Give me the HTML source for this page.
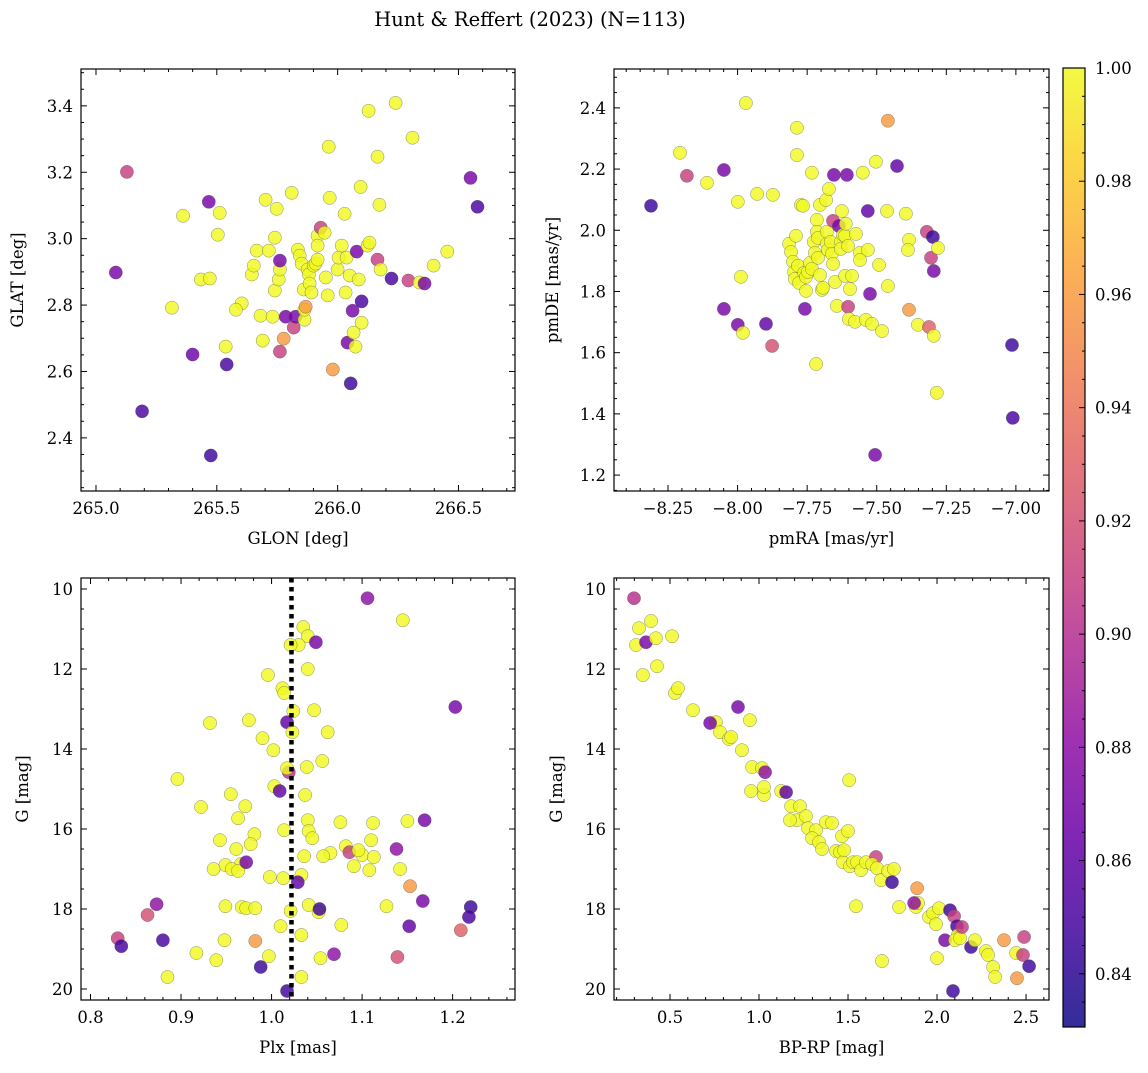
<!DOCTYPE html>
<html><head><meta charset="utf-8"><style>
html,body{margin:0;padding:0;background:#fff}
svg text{font-family:"DejaVu Serif","Liberation Serif",serif;fill:#000}
</style></head><body>
<svg id="fig" width="1148" height="1068" viewBox="0 0 1148 1068" xmlns="http://www.w3.org/2000/svg">
<text x="530" y="26" font-size="19.5" text-anchor="middle">Hunt &amp; Reffert (2023) (N=113)</text>
</svg>
<script>
// ---- Panel 1: GLON / GLAT ----
const glon=[265.128,265.082,265.191,265.400,265.467,265.475,265.541,265.360,265.314,265.434,265.471,265.504,265.512,265.537,265.603,265.579,265.645,265.653,265.665,265.681,265.690,265.702,265.715,265.731,265.740,265.740,265.748,265.756,265.761,265.761,265.761,265.777,265.785,265.810,265.818,265.826,265.835,265.843,265.851,265.860,265.863,265.863,265.868,265.876,265.881,265.884,265.892,265.901,265.909,265.917,265.917,265.917,265.930,265.946,265.951,265.959,265.963,265.967,265.980,266.000,266.004,266.017,266.029,266.033,266.037,266.041,266.050,266.054,266.062,266.066,266.074,266.087,266.079,266.099,266.099,266.095,266.124,266.128,266.132,266.165,266.165,266.173,266.178,266.223,266.240,266.293,266.310,266.339,266.360,266.397,266.454,266.550,266.579];
const glat=[3.201,2.898,2.480,2.651,3.111,2.347,2.621,3.069,2.792,2.877,2.880,3.012,3.078,2.675,2.805,2.786,2.892,2.919,2.964,2.768,2.693,3.117,2.964,2.765,3.003,2.844,3.090,2.877,2.907,2.934,2.660,2.699,2.765,3.138,2.732,2.765,2.967,2.949,2.925,2.847,2.756,2.786,2.795,2.907,2.892,2.865,2.838,2.919,2.925,2.937,3.009,2.979,3.033,3.018,2.883,2.829,3.277,3.123,2.606,2.907,2.943,2.979,3.075,2.838,2.943,2.687,2.889,2.564,2.783,2.717,2.675,2.877,2.961,2.811,2.747,3.156,2.979,3.385,2.988,3.247,2.937,3.102,2.907,2.880,3.409,2.874,3.304,2.868,2.865,2.919,2.961,3.183,3.096];
const prob1=[0.91,0.87,0.85,0.865,0.87,0.845,0.85,1,1,1,1,1,1,1,1,1,1,1,1,1,1,1,1,1,1,1,1,1,1,0.87,0.91,0.96,0.87,1,0.91,0.87,1,1,1,1,1,1,0.96,1,1,1,1,1,1,1,1,1,0.91,1,1,1,1,1,0.96,1,1,1,1,1,1,0.87,1,0.845,0.87,1,1,1,0.87,0.85,1,1,1,1,1,1,0.91,1,1,0.85,1,0.91,1,1,0.87,1,1,0.87,0.85];
// ---- Panel 2: pmRA / pmDE ----
const pmra=[-8.311,-8.207,-8.182,-8.110,-8.049,-8.049,-7.970,-7.999,-7.988,-7.999,-7.981,-7.930,-7.898,-7.873,-7.876,-7.815,-7.808,-7.801,-7.797,-7.794,-7.787,-7.787,-7.790,-7.783,-7.779,-7.772,-7.765,-7.761,-7.754,-7.754,-7.758,-7.747,-7.740,-7.733,-7.733,-7.726,-7.722,-7.718,-7.715,-7.715,-7.711,-7.711,-7.704,-7.704,-7.697,-7.693,-7.682,-7.679,-7.679,-7.675,-7.672,-7.665,-7.661,-7.657,-7.657,-7.654,-7.650,-7.643,-7.636,-7.629,-7.629,-7.625,-7.621,-7.614,-7.614,-7.611,-7.607,-7.603,-7.603,-7.600,-7.596,-7.589,-7.578,-7.575,-7.560,-7.560,-7.550,-7.539,-7.532,-7.532,-7.524,-7.517,-7.506,-7.503,-7.492,-7.481,-7.460,-7.463,-7.460,-7.427,-7.395,-7.384,-7.388,-7.384,-7.352,-7.320,-7.312,-7.305,-7.298,-7.295,-7.295,-7.284,-7.280,-7.014,-7.011];
const pmde=[2.080,2.253,2.178,2.155,2.197,1.743,2.416,2.093,1.848,1.691,1.665,2.119,1.694,2.116,1.622,1.956,1.929,1.897,1.864,1.841,2.335,2.246,1.982,1.884,1.828,2.083,2.080,1.861,1.848,1.802,1.743,1.864,1.893,1.874,2.188,1.962,1.926,1.563,2.034,1.995,1.975,1.910,2.083,1.854,1.805,1.812,2.099,1.956,1.995,1.936,2.135,1.962,1.923,1.890,2.031,2.181,1.831,1.753,2.014,1.962,1.939,2.063,1.985,1.982,1.851,2.021,2.181,1.949,1.750,1.710,1.808,1.851,1.701,1.988,1.926,1.903,2.188,1.707,2.063,1.936,1.792,1.694,1.266,2.224,1.887,1.671,2.358,2.063,1.818,2.210,2.054,1.969,1.936,1.740,1.691,1.995,1.684,1.910,1.978,1.867,1.655,1.469,1.942,1.625,1.387];
const prob2=[0.845,1,0.91,1,0.87,0.87,1,1,1,0.87,1,1,0.86,1,0.92,1,1,1,1,1,1,1,1,1,1,1,1,1,1,1,0.87,1,1,1,1,1,1,1,1,1,1,1,1,1,1,1,1,1,1,1,1,1,1,1,0.91,0.87,1,1,0.87,1,1,1,1,1,1,1,0.87,1,0.91,1,1,1,1,1,1,1,1,1,0.86,1,0.87,1,0.87,1,1,1,0.96,1,1,0.86,1,1,1,0.96,1,0.91,0.93,0.91,0.845,0.87,1,1,1,0.845,0.85];
// ---- Panel 3: Plx / G ----
const plx=[1.106,1.145,1.035,1.040,1.030,1.049,1.021,1.040,0.996,1.012,1.014,1.203,1.024,1.047,1.017,0.932,0.975,1.062,0.990,1.023,1.002,1.056,1.039,1.019,1.017,0.896,1.003,1.037,1.009,0.955,0.971,0.922,0.963,1.040,1.150,1.169,1.076,1.041,1.014,0.981,1.112,0.943,0.977,1.045,1.110,0.961,1.065,1.057,1.082,1.086,1.100,1.113,1.096,1.036,0.966,0.949,0.936,0.956,0.963,0.972,1.091,1.108,1.138,1.142,0.998,1.033,1.013,1.029,1.153,0.873,0.967,0.949,0.972,0.982,1.021,1.052,1.041,1.053,1.127,1.167,1.220,0.863,1.010,1.152,1.218,1.033,1.077,0.830,0.948,0.880,0.982,0.917,1.209,1.139,0.939,0.997,1.054,1.069,0.988,1.033,0.885,0.834,1.017];
const gmag3=[10.23,10.78,10.95,11.18,11.40,11.33,11.40,12.00,12.15,12.48,12.60,12.95,13.05,13.03,13.33,13.35,13.28,13.58,13.73,13.58,14.03,14.30,14.45,14.58,14.48,14.75,14.93,15.15,15.05,15.13,15.43,15.45,15.73,15.78,15.80,15.78,15.83,16.05,16.03,16.13,15.85,16.28,16.38,16.23,16.28,16.50,16.60,16.68,16.43,16.58,16.65,16.70,16.53,16.68,16.88,16.90,17.00,17.00,17.05,16.83,16.93,17.03,16.50,17.00,17.20,17.15,17.23,17.33,17.43,17.88,17.95,17.93,17.98,17.98,18.05,18.08,17.90,18.00,17.93,17.80,17.95,18.15,18.43,18.43,18.20,18.65,18.40,18.73,18.78,18.78,18.80,19.10,18.53,19.20,19.28,19.18,19.23,19.13,19.45,19.70,19.70,18.93,20.05];
const prob3=[0.88,1,1,1,1,0.87,1,1,1,1,1,0.87,1,1,0.86,1,1,1,1,1,1,1,1,0.9,1,1,1,1,0.86,1,1,1,1,1,1,0.87,1,1,1,1,1,1,1,1,1,1,1,1,1,0.91,1,1,1,1,1,1,1,1,1,0.87,1,1,0.88,1,1,1,1,0.86,0.96,0.88,1,1,1,1,1,1,1,0.845,1,0.87,0.845,0.92,1,0.86,0.85,1,1,0.91,1,0.85,0.96,1,0.93,0.92,1,1,1,0.88,0.845,1,1,0.85,0.845];
// ---- Panel 4: BP-RP / G ----
const bprp=[0.298,0.326,0.309,0.365,0.393,0.421,0.427,0.348,0.511,0.528,0.545,0.629,0.758,0.725,0.781,0.831,0.882,0.949,0.843,0.904,0.961,1.017,1.034,1.028,0.955,1.028,1.124,1.152,1.180,1.230,1.213,1.174,1.264,1.275,1.320,1.298,1.376,1.337,1.354,1.410,1.433,1.455,1.466,1.472,1.478,1.500,1.511,1.528,1.551,1.506,1.573,1.601,1.657,1.635,1.663,1.685,1.725,1.758,1.747,1.545,1.787,1.882,1.888,1.893,1.871,1.955,1.978,1.994,2.011,2.045,2.073,2.096,2.112,2.118,2.101,2.129,2.140,2.191,2.213,2.275,2.287,2.315,2.376,2.444,2.489,2.483,2.517,2.449,1.691,2.000,2.326,2.090];
const gmag4=[10.23,10.98,11.40,11.33,10.80,11.23,11.93,12.15,11.18,12.60,12.48,13.03,13.33,13.35,13.58,13.75,12.95,13.28,13.70,14.03,14.45,14.48,14.58,15.15,15.05,14.95,15.05,15.08,15.43,15.43,15.78,15.78,15.68,15.98,16.03,16.23,15.83,16.33,16.50,15.85,16.55,16.58,16.18,16.83,16.53,16.05,16.93,16.83,16.83,14.78,17.03,16.83,16.70,16.88,16.98,17.28,17.05,17.00,17.33,17.93,17.95,17.95,17.48,17.85,17.85,18.20,18.10,18.38,17.98,18.78,18.03,18.18,18.43,18.65,18.78,18.73,18.45,18.95,18.78,19.05,19.15,19.45,18.78,19.10,18.70,19.15,19.43,19.73,19.30,19.23,19.70,20.05];
const prob4=[0.9,1,1,0.87,1,1,1,1,1,1,1,1,1,0.87,1,1,0.87,1,1,1,1,1,0.88,1,1,1,1,0.86,1,1,1,1,1,1,1,1,1,1,1,1,1,1,1,1,1,1,1,1,1,1,1,1,0.91,1,1,1,1,1,0.845,1,1,1,0.96,1,0.88,1,1,1,1,0.87,0.845,0.91,0.85,1,1,1,0.91,0.845,1,1,1,1,0.96,1,0.91,0.91,0.845,0.96,1,1,1,0.845];

const cbTicks=["0.84","0.86","0.88","0.90","0.92","0.94","0.96","0.98","1.00"];
const CMIN=0.8306, CMAX=1.0;
const NS='http://www.w3.org/2000/svg';
const svg=document.getElementById('fig');
const stops=[[13,8,135],[65,4,157],[106,0,168],[143,13,164],[177,42,144],[204,71,120],[225,100,98],[242,132,75],[252,166,54],[252,206,37],[240,249,33]];
function plasma(t){t=Math.max(0,Math.min(1,t));const f=t*10,i=Math.min(9,Math.floor(f)),r=f-i;const a=stops[i],b=stops[i+1];
return 'rgb('+a.map((v,k)=>Math.round(v+(b[k]-v)*r)).join(',')+')';}
function mk(tag,at,parent){const e=document.createElementNS(NS,tag);for(const k in at)e.setAttribute(k,at[k]);(parent||svg).appendChild(e);return e;}
function fmt(v,d){return (v<0?'\u2212':'')+Math.abs(v).toFixed(d);}

function panel(o){
  const g=mk('g',{});
  
  
  const sx=v=>o.L+(v-o.x0)/(o.x1-o.x0)*(o.R-o.L);
  const sy=v=>o.inv? o.T+(v-o.y0)/(o.y1-o.y0)*(o.B-o.T) : o.B-(v-o.y0)/(o.y1-o.y0)*(o.B-o.T);
  const pg=mk('g',{},g);
  
  
  for(let i=0;i<o.xs.length;i++){
    const c=mk('circle',{cx:sx(o.xs[i]).toFixed(1),cy:sy(o.ys[i]).toFixed(1),r:6.6,fill:plasma((o.ps[i]-CMIN)/(CMAX-CMIN)),'fill-opacity':0.82,stroke:'#444','stroke-opacity':0.6,'stroke-width':0.5},pg);
    
    
  }
  if(o.vline!==undefined){
    const l=mk('line',{x1:sx(o.vline),x2:sx(o.vline),y1:o.T,y2:o.B,stroke:'#000','stroke-width':4.5,'stroke-dasharray':'4.5 4.5'},g);
    
    
  }
  const tk=mk('g',{stroke:'#000','stroke-width':1},g);
  
  
  const eps=1e-9;
  const xlo=Math.min(o.x0,o.x1),xhi=Math.max(o.x0,o.x1);
  for(let v=Math.ceil(xlo/o.xmin-eps)*o.xmin; v<=xhi+eps; v+=o.xmin){
    const vv=Math.round(v/o.xmin)*o.xmin;const major=Math.abs(vv/o.xmaj-Math.round(vv/o.xmaj))<1e-6;const len=major?6:3;const x=sx(vv);
    mk('line',{x1:x,x2:x,y1:o.B,y2:o.B-len},tk);mk('line',{x1:x,x2:x,y1:o.T,y2:o.T+len},tk);
    if(major){const t=mk('text',{x:x,y:o.B+23,'font-size':16.5,'text-anchor':'middle',stroke:'none'},g);t.textContent=fmt(vv,o.xd);
      }
  }
  const ylo=Math.min(o.y0,o.y1),yhi=Math.max(o.y0,o.y1);
  for(let v=Math.ceil(ylo/o.ymin-eps)*o.ymin; v<=yhi+eps; v+=o.ymin){
    const vv=Math.round(v/o.ymin)*o.ymin;const major=Math.abs(vv/o.ymaj-Math.round(vv/o.ymaj))<1e-6;const len=major?6:3;const y=sy(vv);
    mk('line',{x1:o.L,x2:o.L+len,y1:y,y2:y},tk);mk('line',{x1:o.R,x2:o.R-len,y1:y,y2:y},tk);
    if(major){const t=mk('text',{x:o.L-8,y:y+6,'font-size':16.5,'text-anchor':'end',stroke:'none'},g);t.textContent=fmt(vv,o.yd);
      }
  }
  const fr=mk('rect',{x:o.L,y:o.T,width:o.R-o.L,height:o.B-o.T,fill:'none',stroke:'#000','stroke-width':1.2},g);
  
  
  const xl=mk('text',{x:(o.L+o.R)/2,y:o.B+53,'font-size':16.5,'text-anchor':'middle'},g);xl.textContent=o.xlab;
  
  const yx=o.ylx, yy=(o.T+o.B)/2;
  const yl=mk('text',{x:yx,y:yy,'font-size':16.5,'text-anchor':'middle',transform:'rotate(-90 '+yx+' '+yy+')'},g);yl.textContent=o.ylab;
  
}

panel({name:'glon-glat-panel',L:81,R:515,T:69,B:491,x0:264.938,x1:266.734,y0:2.24,y1:3.511,xs:glon,ys:glat,ps:prob1,xmaj:0.5,xmin:0.1,ymaj:0.2,ymin:0.05,xd:1,yd:1,xlab:'GLON [deg]',ylab:'GLAT [deg]',ylx:23});
panel({name:'pm-panel',L:614,R:1049,T:69,B:491,x0:-8.444,x1:-6.881,y0:1.148,y1:2.527,xs:pmra,ys:pmde,ps:prob2,xmaj:0.25,xmin:0.05,ymaj:0.2,ymin:0.05,xd:2,yd:1,xlab:'pmRA [mas/yr]',ylab:'pmDE [mas/yr]',ylx:558});
panel({name:'plx-g-panel',L:81,R:515,T:578,B:1000,x0:0.7895,x1:1.2689,y0:9.725,y1:20.275,inv:true,xs:plx,ys:gmag3,ps:prob3,xmaj:0.1,xmin:0.02,ymaj:2,ymin:0.5,xd:1,yd:0,xlab:'Plx [mas]',ylab:'G [mag]',ylx:28,vline:1.022});
panel({name:'cmd-panel',L:614,R:1049,T:578,B:1000,x0:0.1854,x1:2.629,y0:9.725,y1:20.275,inv:true,xs:bprp,ys:gmag4,ps:prob4,xmaj:0.5,xmin:0.1,ymaj:2,ymin:0.5,xd:1,yd:0,xlab:'BP-RP [mag]',ylab:'G [mag]',ylx:562});

(function(){
  const L=1063,R=1085,T=68,B=1027;
  const cg=mk('g',{});
  
  
  const defs=mk('defs',{},cg);
  const lg=mk('linearGradient',{id:'cbg',x1:0,y1:1,x2:0,y2:0},defs);
  for(let i=0;i<=20;i++){const t=i/20;mk('stop',{offset:t,'stop-color':plasma(t),'stop-opacity':0.85},lg);}
  const r=mk('rect',{x:L,y:T,width:R-L,height:B-T,fill:'url(#cbg)',stroke:'#000','stroke-width':1.2},cg);
  
  
  const sy=v=>B-(v-CMIN)/(CMAX-CMIN)*(B-T);
  for(let v=0.835;v<=1.0001;v+=0.005){const y=sy(v);const major=Math.abs(v*50-Math.round(v*50))<1e-6;
    mk('line',{x1:R,x2:R-(major?6:3),y1:y,y2:y,stroke:'#000','stroke-width':1},cg);}
  cbTicks.forEach(s=>{const v=parseFloat(s);const t=mk('text',{x:R+10,y:sy(v)+6,'font-size':16.5},cg);t.textContent=s;
    });
})();
</script>
</body></html>
